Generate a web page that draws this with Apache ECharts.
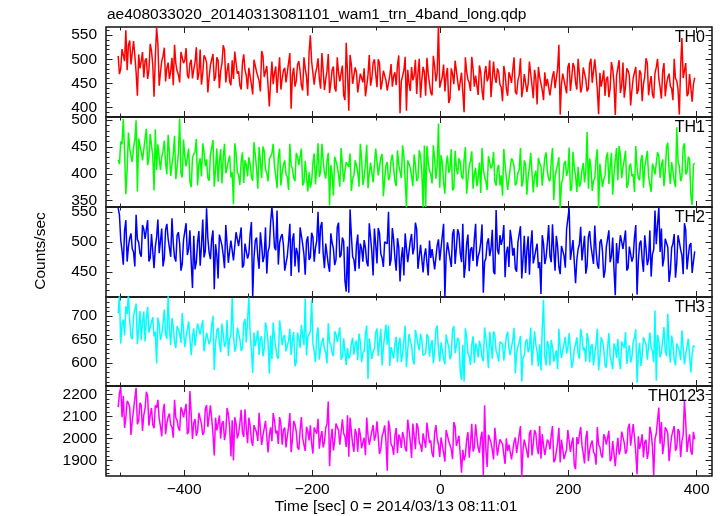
<!DOCTYPE html>
<html><head><meta charset="utf-8">
<script src="https://cdn.jsdelivr.net/npm/echarts@6/dist/echarts.min.js"></script>
<style>html,body{margin:0;padding:0;background:#fff}#c{width:724px;height:516px}</style>
</head><body><div id="c"></div>
<script>
// Time bins (sec, relative to 2014/03/13 08:11:01): set A at -503,-499,...; set B at -501,-497,...
const T_START_A = -503, T_START_B = -501, T_STEP = 4;

const th0_a = [
507,480,521,560,529,489,538,473,510,496,462,502,477,518,422,
566,445,496,524,481,459,503,530,476,452,513,498,468,491,460,
494,457,520,470,503,431,488,511,463,498,476,529,452,492,446,
459,493,475,437,510,466,482,447,499,474,455,517,463,486,402,
495,471,430,504,460,482,451,513,467,443,489,475,435,481,424,
550,494,471,502,439,478,458,511,451,485,433,472,454,425,534,
393,489,448,473,433,467,481,444,509,460,500,442,492,451,478,
435,466,443,473,488,388,451,505,478,434,456,499,471,420,484,
424,470,430,507,454,575,441,489,466,409,481,448,498,435,472,
390,474,451,505,443,462,487,435,470,454,498,425,463,481,447,
413,470,424,464,478,432,456,502,440,471,449,493,419,460,484,
460,415,444,462,423,475,441,530,448,468,429,492,461,484,437,
469,442,483,433,491,451,500,435,472,458,424,464,439,480,384,
467,430,493,443,476,404,461,484,436,471,449,502,425,465,419,
483,459,418,492,448,470,439,501,455,385,544,463,423,469,412,
462];
const th0_b = [
469,521,496,477,539,485,508,424,481,515,497,459,532,488,504,
532,472,506,454,493,475,446,491,468,515,492,523,460,499,479,
525,471,447,508,493,463,486,455,504,440,491,519,476,454,498,
516,470,446,492,478,438,484,427,498,474,433,507,463,485,454,
448,485,471,437,477,452,493,397,482,455,496,446,504,464,513,
495,447,482,460,513,436,476,430,478,441,504,454,487,415,472,
509,449,483,431,470,452,423,468,445,492,469,500,437,476,456,
438,490,465,446,508,454,477,393,450,484,466,428,501,457,473,
503,449,425,486,471,441,464,433,482,418,469,497,454,432,476,
504,458,434,480,466,426,472,415,486,462,421,495,451,473,442,
486,438,473,451,504,427,467,421,469,432,495,445,478,406,463,
436,473,459,425,465,440,481,385,470,443,484,434,492,452,501,
431,483,458,439,501,447,470,386,443,477,459,421,494,450,466,
498,444,420,481,466,436,459,428,477,413,464,492,449,427,471,
501,441,475,423,462,444,415,460,437,484,461,492,429,468,448];

const th1_a = [
426,460,502,362,477,433,449,500,466,441,422,484,430,453,369,
407,454,431,462,399,438,418,471,411,503,393,432,414,385,430,
442,378,429,457,414,392,436,463,409,385,446,431,401,424,393,
343,439,398,423,383,417,431,394,459,410,450,392,442,401,428,
438,414,373,447,403,425,394,456,410,386,432,418,378,424,367,
374,420,380,457,404,426,391,439,416,359,431,398,448,385,422,
413,368,397,415,376,428,394,454,401,421,382,445,414,437,390,
422,395,436,386,444,404,453,388,425,411,377,417,392,433,337,
338,422,399,453,391,494,435,383,418,402,446,373,411,429,395,
427,363,414,442,399,377,421,448,394,370,431,416,386,409,378,
359,416,370,410,424,378,402,448,386,417,395,439,365,406,430,
414,377,440,390,423,351,408,431,383,418,396,449,372,412,366,
376,407,384,478,429,368,392,446,419,375,397,440,412,361,425,
388,435,412,443,380,419,399,452,392,426,374,413,395,366,411,
399,433,415,377,450,406,422,387,487,414,395,457,403,426,342,
420];
const th1_b = [
418,455,441,407,447,422,463,367,452,425,466,416,474,434,483,
455,407,442,420,473,396,436,390,438,401,464,414,447,375,432,
465,419,395,441,427,387,433,376,447,423,382,456,412,434,403,
457,403,379,440,425,395,418,387,436,372,423,451,408,386,430,
456,396,430,378,417,399,370,415,392,439,416,447,384,423,403,
386,438,413,394,456,402,425,341,398,432,414,376,449,405,421,
438,390,425,403,456,379,419,373,421,384,447,397,430,358,415,
388,425,411,377,417,392,433,337,422,395,436,386,444,404,453,
452,406,382,428,414,374,420,363,434,410,369,443,399,421,390,
450,390,424,372,411,393,364,409,386,433,410,441,378,417,397,
446,392,368,429,414,384,407,376,425,361,412,440,397,375,419,
378,430,405,386,448,394,417,333,390,424,406,368,441,397,413,
383,420,406,372,412,387,428,332,417,390,431,381,439,399,448,
452,392,426,374,413,395,366,411,388,435,412,443,380,419,399,
440,392,427,405,458,381,421,375,423,386,449,399,432,360,417];

const th2_a = [
556,503,462,536,492,514,483,545,499,475,521,507,467,513,456,
508,481,522,472,530,490,539,474,511,497,463,503,478,519,423,
454,500,460,537,484,506,471,519,496,439,511,478,528,465,502,
469,516,493,524,461,500,480,533,473,507,455,494,476,447,492,
558,491,552,498,513,452,476,530,503,459,481,524,496,445,509,
474,508,490,550,525,481,497,462,514,489,470,532,478,501,417,
415,511,470,495,455,489,503,466,531,482,522,464,514,473,500,
497,460,523,473,506,434,491,514,466,501,479,532,455,495,449,
489,444,473,491,452,504,470,530,477,497,458,521,490,513,466,
440,497,451,491,505,459,483,529,467,498,476,520,446,487,511,
505,441,492,520,477,455,499,526,472,448,509,494,464,487,456,
413,497,474,528,466,485,510,458,493,477,521,556,486,504,470,
496,469,510,460,518,478,527,462,499,485,451,491,466,507,411,
464,511,488,519,456,495,475,528,468,502,450,489,471,442,487,
496,557,522,472,505,433,490,513,465,500,478,531,454,494,448,
484];
const th2_b = [
545,485,519,467,506,488,459,504,481,528,505,536,473,512,492,
537,483,459,520,505,475,498,467,516,452,503,531,488,466,510,
466,518,493,474,556,482,505,421,478,512,494,456,529,485,501,
468,505,491,457,497,472,513,409,502,475,516,466,524,484,533,
532,486,462,508,494,454,500,443,514,490,449,523,479,501,470,
515,467,502,480,533,456,496,450,498,461,524,474,507,435,492,
554,475,451,512,497,467,490,459,508,444,495,523,480,458,502,
550,470,504,452,491,473,444,489,466,513,490,521,458,497,477,
465,502,488,454,494,469,510,408,499,472,513,463,521,481,530,
460,512,487,468,530,476,499,415,472,506,488,450,553,479,495,
528,482,458,504,490,450,496,439,510,486,445,519,475,497,466,
511,463,498,476,529,452,492,446,494,457,520,470,503,431,488,
525,471,447,508,493,463,486,455,504,440,491,519,476,454,498,
463,500,486,452,492,467,508,412,497,470,511,461,519,479,552,
529,483,459,505,491,451,497,440,511,487,446,520,476,498,467];

const th3_a = [
706,642,693,721,748,656,700,727,673,649,710,695,665,688,657,
599,683,660,714,652,671,696,644,679,663,707,634,672,690,656,
637,684,661,692,629,668,648,701,641,675,623,662,644,615,660,
662,635,676,626,684,644,740,628,665,651,617,657,632,673,577,
608,654,614,691,638,660,625,673,650,593,665,632,682,738,656,
667,643,602,676,632,654,623,685,639,615,661,647,607,653,596,
610,641,618,648,663,602,626,680,653,609,631,674,646,595,659,
639,594,623,641,602,654,620,680,627,647,608,671,640,663,616,
621,655,637,599,672,628,644,609,661,636,617,679,625,648,564,
560,656,615,640,600,634,648,611,676,627,667,609,659,618,645,
641,604,667,617,650,578,635,658,610,645,623,676,599,639,593,
584,735,595,635,649,603,627,673,611,642,620,664,590,631,655,
609,656,633,664,601,640,620,673,613,647,595,634,616,587,632,
651,587,638,666,623,601,645,672,618,594,655,640,610,633,602,
562,646,623,677,615,634,659,607,642,626,670,597,635,653,619,
634];
const th3_b = [
746,683,659,705,691,651,697,640,711,687,646,720,676,698,667,
697,649,684,662,744,638,678,632,680,643,706,656,689,617,674,
636,673,659,625,665,640,681,585,670,643,684,634,692,652,739,
624,676,651,632,694,640,663,579,636,670,652,614,687,643,659,
687,633,609,670,655,625,648,617,666,602,653,681,638,616,660,
735,625,659,607,646,628,599,644,621,668,645,676,613,652,632,
617,654,640,606,646,621,662,566,651,624,665,615,673,633,682,
680,634,610,656,642,602,648,591,662,638,597,671,627,649,618,
662,614,649,627,680,603,643,597,645,608,671,621,654,582,639,
674,620,596,657,642,612,635,604,653,589,640,668,625,603,647,
605,657,632,613,675,621,644,560,617,651,633,595,668,624,640,
673,613,647,595,634,616,587,632,609,656,633,664,601,640,620,
673,627,603,649,635,595,641,584,655,631,590,664,620,642,611,
609,646,632,598,638,613,654,558,643,616,657,607,665,625,712,
660,612,647,625,705,601,641,595,643,606,669,619,652,580,637];

const th0123_a = [
2142,2232,2194,2094,2160,2016,2130,2230,2080,2150,2106,2212,2058,2138,2046,
2139,2091,2009,2157,2069,2113,2051,2175,2083,2035,2127,2099,2019,2215,1997,
2088,2034,2116,2016,2132,2052,2150,2020,2094,2066,1998,2078,2028,2110,1918,
1900,2068,2022,2130,2006,2044,2094,1990,2060,2028,2116,1970,2046,2082,2014,
1987,2081,2035,2097,1971,2049,2009,2115,1995,2063,1959,2037,2001,1943,2033,
2059,1931,2033,2089,2003,1959,2047,2168,1993,1945,2067,2037,1977,2023,1961,
1917,2031,1939,2019,2047,1955,2003,2095,1971,2033,1989,2077,1929,2011,2059,
1853,2045,1963,2013,1933,2001,2029,1955,2085,1987,2067,1951,2051,1969,2023,
1958,2026,1990,1914,2060,1972,2004,1934,2038,1988,1950,2074,1966,2012,1844,
1900,1992,1912,2066,1960,2004,1934,2030,2150,1870,2014,1948,2048,1922,1996,
1974,1884,1942,1978,1900,2004,1936,2056,1950,1990,1912,2038,1976,2022,1928,
1908,1970,1924,1984,2014,1892,1940,2048,1994,1906,1950,2036,1980,1878,2006,
2016,1968,1886,2034,1946,1990,1928,2052,1960,1912,2004,1976,1896,1988,1874,
2003,1949,2031,1931,2047,1967,2065,1935,2009,1981,1913,1993,1943,2025,1833,
2022,2140,2074,1974,2040,1896,2010,2056,1960,2030,1986,2172,1938,2018,1926,
1995];
const th0123_b = [
2204,2096,2048,2170,2140,2080,2126,2064,2162,2034,2136,2192,2106,2062,2150,
2175,2055,2123,2019,2097,2061,2003,2093,2047,2141,2095,2157,2031,2109,2069,
2012,2116,2066,2028,2152,2044,2090,1922,2036,2104,2068,1992,2138,2050,2082,
2096,2000,2070,2026,2132,1978,2058,1966,2062,1988,2114,2014,2080,1936,2050,
2115,2023,1975,2067,2039,1959,2051,1937,2079,2031,1949,2097,2009,2053,1991,
1975,2049,2021,1953,2033,1983,2065,1873,2043,1989,2071,1971,2087,2007,2105,
2095,1975,2043,1939,2017,1981,1923,2013,1967,2061,2015,2077,1951,2029,1989,
2081,1973,1925,2047,2017,1957,2003,1941,2039,1911,2013,2069,1983,1939,2027,
2072,1980,1932,2024,1996,1916,2008,1894,2036,1988,1906,2054,1966,2010,1948,
1924,2028,1978,1940,2064,1956,2002,1834,1948,2016,1980,1904,2050,1962,1994,
1926,2000,1972,1904,1984,1934,2016,1824,1994,1940,2022,1922,2038,1958,2056,
2020,1924,1994,1950,2056,1902,1982,1890,1986,1912,2038,1938,2004,1860,1974,
2052,1932,2000,1896,1974,1938,1880,1970,1924,2018,1972,2034,1908,1986,1946,
1927,2031,1981,1943,2067,1959,2005,1837,1951,2019,1983,1907,2053,1965,1997,
2084,1976,1928,2050,2020,1960,2006,1944,2042,1914,2016,2072,1986,1942,2030];

const panelNames = ['TH0','TH1','TH2','TH3','TH0123'];
const yMin = [380, 338, 408, 551, 1829];
const yMax = [567, 506, 558, 741, 2238];
const yMajorTicks = [[400,450,500,550],[350,400,450,500],[450,500,550],[600,650,700],[1900,2000,2100,2200]];
const yMinorStep = [10,10,10,10,20];
const xTickLabels = [-400,-200,0,200,400];
const xMajorTicks = [-400,-200,0,200,400];
const xMinorTicks = [-500,-300,-100,100,300];
const titleText = 'ae408033020_20140313081101_wam1_trn_4band_long.qdp';
const xAxisTitle = 'Time [sec] 0 = 2014/03/13 08:11:01';
const yAxisTitle = 'Counts/sec';

const seriesA = [th0_a, th1_a, th2_a, th3_a, th0123_a];
const seriesB = [th0_b, th1_b, th2_b, th3_b, th0123_b];
const colors = ['#ff0000','#00ff00','#0000ff','#00ffff','#ff00ff'];
const panelTops = [27,117,207,297,386];
const panelHeights = [90,90,90,89,90];
const X_MIN = -522, X_MAX = 424;
const FONT = '"Liberation Sans", Arial, Helvetica, sans-serif';
const FS = 15.5;
const TICK = '#222';

function minorList(mn, mx, st){const a=[];for(let v=Math.ceil(mn/st)*st;v<=mx;v+=st)a.push(v);return a;}
function buildData(a, b){
  const d=[];
  for(let k=0;k<a.length;k++){
    d.push([T_START_A + k*T_STEP, a[k]]);
    if(k<b.length) d.push([T_START_B + k*T_STEP, b[k]]);
  }
  return d;
}

const grids=[], xAxes=[], yAxes=[], series=[], graphics=[];
const noLine = {show:false,onZero:false};
panelNames.forEach((name,i)=>{
  grids.push({left:106,right:12,top:panelTops[i],height:panelHeights[i],show:true,
    borderColor:'#111',borderWidth:1.5,backgroundColor:'transparent'});
  const bx = {type:'value',gridIndex:i,min:X_MIN,max:X_MAX,splitLine:{show:false},axisLine:noLine};
  const xi = xAxes.length;
  xAxes.push(Object.assign({}, bx, {position:'bottom',
    axisTick:{show:true,inside:true,length:6,customValues:xMajorTicks,lineStyle:{color:TICK,width:1}},
    axisLabel:{show:i===4,customValues:xTickLabels,fontSize:FS,color:'#000',fontFamily:FONT,margin:6,
      formatter:v=>String(v).replace('-','\u2212')}}));
  xAxes.push(Object.assign({}, bx, {position:'bottom',
    axisTick:{show:true,inside:true,length:3.5,customValues:xMinorTicks,lineStyle:{color:TICK,width:1}},
    axisLabel:{show:false}}));
  xAxes.push(Object.assign({}, bx, {position:'top',
    axisTick:{show:true,inside:true,length:6,customValues:xMajorTicks,lineStyle:{color:TICK,width:1}},
    axisLabel:{show:false}}));
  xAxes.push(Object.assign({}, bx, {position:'top',
    axisTick:{show:true,inside:true,length:3.5,customValues:xMinorTicks,lineStyle:{color:TICK,width:1}},
    axisLabel:{show:false}}));

  const by = {type:'value',gridIndex:i,min:yMin[i],max:yMax[i],splitLine:{show:false},axisLine:noLine};
  const minors = minorList(yMin[i], yMax[i], yMinorStep[i]);
  const yi = yAxes.length;
  yAxes.push(Object.assign({}, by, {position:'left',
    axisTick:{show:true,inside:true,length:6.5,customValues:yMajorTicks[i],lineStyle:{color:TICK,width:1}},
    axisLabel:{show:true,customValues:yMajorTicks[i],fontSize:FS,color:'#000',fontFamily:FONT,margin:9,
      formatter:v=>String(v)}}));
  yAxes.push(Object.assign({}, by, {position:'left',
    axisTick:{show:true,inside:true,length:3.5,customValues:minors,lineStyle:{color:TICK,width:1}},
    axisLabel:{show:false}}));
  yAxes.push(Object.assign({}, by, {position:'right',
    axisTick:{show:true,inside:true,length:6.5,customValues:yMajorTicks[i],lineStyle:{color:TICK,width:1}},
    axisLabel:{show:false}}));
  yAxes.push(Object.assign({}, by, {position:'right',
    axisTick:{show:true,inside:true,length:3.5,customValues:minors,lineStyle:{color:TICK,width:1}},
    axisLabel:{show:false}}));

  series.push({type:'line',name:name,xAxisIndex:xi,yAxisIndex:yi,showSymbol:false,symbol:'none',
    clip:true,lineStyle:{color:colors[i],width:1.5},
    data:buildData(seriesA[i], seriesB[i])});

  graphics.push({type:'text',x:705,y:panelTops[i]+11,z:100,
    style:{text:name,fill:'#000',font:'16px '+FONT,align:'right',verticalAlign:'middle',
      textAlign:'right',textVerticalAlign:'middle'}});
});

graphics.push({type:'text',x:107,y:15,z:100,
  style:{text:titleText,fill:'#000',font:FS+'px '+FONT,align:'left',verticalAlign:'middle',
    textAlign:'left',textVerticalAlign:'middle'}});
graphics.push({type:'text',x:396,y:507,z:100,
  style:{text:xAxisTitle,fill:'#000',font:FS+'px '+FONT,align:'center',verticalAlign:'middle',
    textAlign:'center',textVerticalAlign:'middle'}});
graphics.push({type:'text',x:41,y:251,rotation:Math.PI/2,z:100,
  style:{text:yAxisTitle,fill:'#000',font:FS+'px '+FONT,align:'center',verticalAlign:'middle',
    textAlign:'center',textVerticalAlign:'middle'}});

const chart = echarts.init(document.getElementById('c'), null, {renderer:'canvas'});
chart.setOption({
  animation:false,
  backgroundColor:'#fff',
  grid:grids, xAxis:xAxes, yAxis:yAxes, series:series, graphic:graphics
});
</script>
</body></html>
